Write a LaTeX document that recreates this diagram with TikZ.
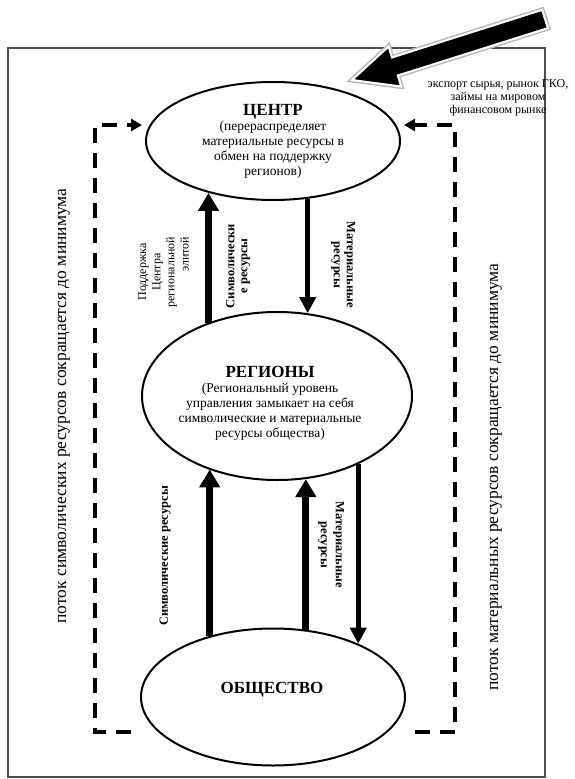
\documentclass[tikz,border=0pt]{standalone}
\usepackage{fontspec}
\setmainfont{Liberation Serif}
\usetikzlibrary{arrows.meta,shapes.geometric}
\begin{document}
\begin{tikzpicture}[x=1pt,y=-1pt,
  oval/.style={draw, ellipse, line width=2pt, inner sep=0pt},
  upar/.style={line width=7.5pt, -{Triangle[width=20pt,length=18pt]}},
  dnar/.style={line width=5pt, -{Triangle[width=16pt,length=16pt]}},
  dashloop/.style={line width=3.8pt, dash pattern=on 15pt off 10pt, -{Triangle[width=12pt,length=11pt]}},
  body/.style={align=center, font=\fontsize{13.5}{15}\selectfont},
  ttl/.style={font=\fontsize{17}{19}\selectfont\bfseries},
  vlab/.style={align=center, font=\fontsize{12.5}{13}\selectfont\bfseries},
  side/.style={font=\fontsize{17.5}{19}\selectfont, rotate=90},
]
\useasboundingbox (0,0) rectangle (574,779);
% frame
\draw[gray!60!black, line width=1.3pt] (8,48) rectangle (545,777);

% ellipses
\node[oval, minimum width=254pt, minimum height=118pt] (centre) at (273,141) {};
\node[oval, minimum width=270pt, minimum height=168pt] (reg) at (277,396) {};
\node[oval, minimum width=264pt, minimum height=137pt] (soc) at (273,697) {};

% ellipse texts
\node[body] (centretxt) at (273,141) {{\fontsize{17}{19}\selectfont\bfseries ЦЕНТР}\\(перераспределяет\\материальные ресурсы в\\обмен на поддержку\\регионов)};
\node[body] (regtxt) at (270,403) {{\fontsize{17}{19}\selectfont\bfseries РЕГИОНЫ}\\(Региональный уровень\\управления замыкает на себя\\символические и материальные\\ресурсы общества)};
\node[ttl] (soctxt) at (272,690) {ОБЩЕСТВО};

% vertical arrows
\draw[upar] (reg.133) -- (reg.133 |- centre.219);
\draw[dnar] (centre.301) -- (centre.301 |- reg.70);
\draw[upar] (soc.136) -- (soc.136 |- reg.227);
\draw[upar, line width=7pt] (soc.64) -- (soc.64 |- reg.289);
\draw[dnar] (reg.320) -- (reg.320 |- soc.32);

% arrow labels
\node[align=center, rotate=90, font=\fontsize{12}{14.2}\selectfont] (lab1) at (163.5,272) {Поддержка\\Центра\\региональной\\\hphantom{регион}элитой};
\node[vlab, rotate=90] (lab2) at (238,266) {Символически\\е ресурсы};
\node[vlab, rotate=-90] (lab3) at (343,265) {Материальные\\ресурсы};
\node[vlab, rotate=90] (lab4) at (165,556) {Символические ресурсы};
\node[vlab, rotate=-90, font=\fontsize{12.5}{15}\selectfont\bfseries] (lab5) at (331,545) {Материальные\\ресурсы};

% dashed loops
\coordinate (lbs) at (131,732);
\coordinate (lb) at (95,732);
\coordinate (lt) at (95,125);
\coordinate (rbs) at (415,732);
\coordinate (rb) at (455,732);
\coordinate (rt) at (455,125);
\draw[dashloop] (lbs) -- (lb) -- (lt) -- ([xshift=-3pt]centre.west |- lt);
\draw[dashloop] (rbs) -- (rb) -- (rt) -- ([xshift=3pt]centre.east |- lt);

% side labels
\node[side] (lside) at (64,406) {поток символических ресурсов сокращается до минимума};
\node[side] (rside) at (496,477) {поток материальных ресурсов сокращается до минимума};

% big external arrow
\filldraw[draw=gray!55, line width=5pt, line join=miter, fill=black]
  (352,80) -- (401.2,86.5) -- (397.8,75.5) -- (547.9,28.1) -- (542.1,9.9) -- (392.0,57.5) -- (388.6,46.5) -- cycle;
\filldraw[draw=white, line width=2pt, line join=miter, fill=black]
  (352,80) -- (401.2,86.5) -- (397.8,75.5) -- (547.9,28.1) -- (542.1,9.9) -- (392.0,57.5) -- (388.6,46.5) -- cycle;
\coordinate (bigtip) at (352,80);
\node[align=center, font=\fontsize{12}{13.3}\selectfont] (export) at (498,98) {экспорт сырья, рынок ГКО,\\займы на мировом\\финансовом рынке};
\end{tikzpicture}
\end{document}
